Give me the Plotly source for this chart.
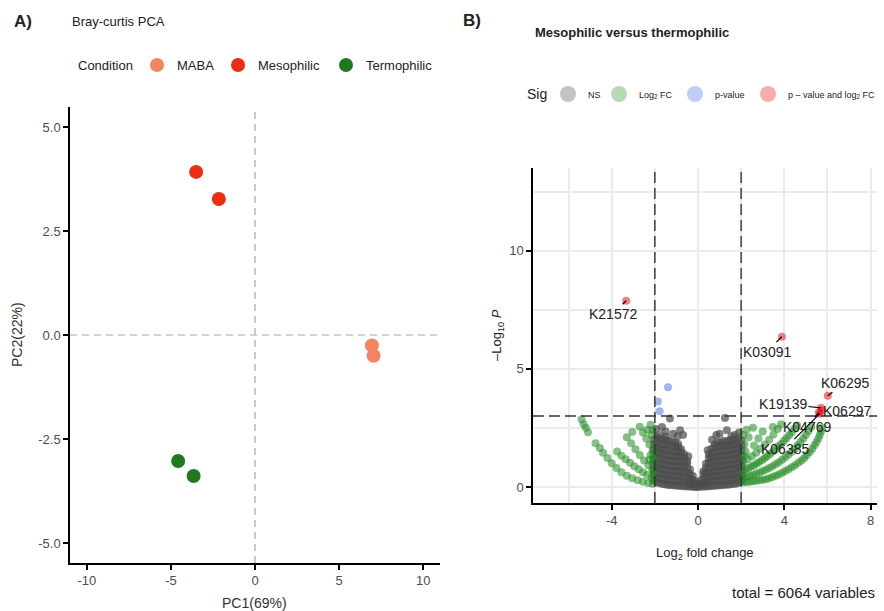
import plotly.graph_objects as go

W, H = 884, 611
FONT = "Liberation Sans, Arial, Helvetica, sans-serif"

# ---------------- Panel A: Bray-Curtis PCA scores ----------------
pca_condition = ["MABA", "MABA", "Mesophilic", "Mesophilic", "Termophilic", "Termophilic"]
pca_pc1 = [6.95, 7.05, -3.5, -2.15, -4.57, -3.65]
pca_pc2 = [-0.25, -0.5, 3.92, 3.27, -3.03, -3.39]
condition_order = ["MABA", "Mesophilic", "Termophilic"]
condition_colors = {"MABA": "#F4845F", "Mesophilic": "#EE2C10", "Termophilic": "#1F7A1F"}
pca_x_ticks = [-10, -5, 0, 5, 10]
pca_y_ticks = [-5.0, -2.5, 0.0, 2.5, 5.0]
pca_x_title = "PC1(69%)"
pca_y_title = "PC2(22%)"

# ---------------- Panel B: volcano (log2 fold change vs -log10 p) ----------------
# not significant
ns_points = [
    (-2.05, 0.28), (-2.05, 0.5), (-2.05, 0.72), (-2.05, 0.93), (-2.05, 1.15), (-2.05, 1.36), (-2.05, 1.58), (-2.05, 1.8), (-2.05, 2.0),
    (-1.92, 0.2), (-1.92, 0.41), (-1.92, 0.62), (-1.92, 0.84), (-1.92, 1.05), (-1.92, 1.26), (-1.92, 1.47), (-1.92, 1.69), (-1.92, 1.9), (-1.92, 2.1),
    (-1.78, 0.16), (-1.78, 0.36), (-1.78, 0.57), (-1.78, 0.78), (-1.78, 0.99), (-1.78, 1.2), (-1.78, 1.41), (-1.78, 1.62), (-1.78, 1.83), (-1.78, 2.04), (-1.78, 2.2),
    (-1.63, 0.12), (-1.63, 0.33), (-1.63, 0.54), (-1.63, 0.75), (-1.63, 0.96), (-1.63, 1.17), (-1.63, 1.38), (-1.63, 1.6), (-1.63, 1.81), (-1.63, 2.02),
    (-1.49, 0.1), (-1.49, 0.3), (-1.49, 0.51), (-1.49, 0.72), (-1.49, 0.93), (-1.49, 1.14), (-1.49, 1.35), (-1.49, 1.56), (-1.49, 1.77), (-1.49, 1.98), (-1.49, 2.12),
    (-1.35, 0.08), (-1.35, 0.28), (-1.35, 0.49), (-1.35, 0.7), (-1.35, 0.91), (-1.35, 1.12), (-1.35, 1.33), (-1.35, 1.54), (-1.35, 1.75), (-1.35, 1.95),
    (-1.2, 0.07), (-1.2, 0.27), (-1.2, 0.47), (-1.2, 0.68), (-1.2, 0.89), (-1.2, 1.1), (-1.2, 1.31), (-1.2, 1.52), (-1.2, 1.73), (-1.2, 1.92),
    (-1.06, 0.06), (-1.06, 0.26), (-1.06, 0.46), (-1.06, 0.67), (-1.06, 0.88), (-1.06, 1.09), (-1.06, 1.3), (-1.06, 1.5), (-1.06, 1.7), (-1.06, 1.88),
    (-0.92, 0.05), (-0.92, 0.25), (-0.92, 0.45), (-0.92, 0.66), (-0.92, 0.87), (-0.92, 1.08), (-0.92, 1.29), (-0.92, 1.49), (-0.92, 1.7), (-0.92, 1.82),
    (-0.78, 0.04), (-0.78, 0.24), (-0.78, 0.44), (-0.78, 0.65), (-0.78, 0.86), (-0.78, 1.07), (-0.78, 1.27), (-0.78, 1.47), (-0.78, 1.6),
    (-0.64, 0.03), (-0.64, 0.22), (-0.64, 0.42), (-0.64, 0.63), (-0.64, 0.84), (-0.64, 1.05), (-0.64, 1.25), (-0.64, 1.38),
    (-0.5, 0.02), (-0.5, 0.2), (-0.5, 0.4), (-0.5, 0.6), (-0.5, 0.8), (-0.5, 1.0), (-0.5, 1.1),
    (-0.37, 0.02), (-0.37, 0.18), (-0.37, 0.36), (-0.37, 0.55), (-0.37, 0.74),
    (-0.24, 0.01), (-0.24, 0.15), (-0.24, 0.3), (-0.24, 0.46),
    (-0.12, 0.0), (-0.12, 0.12), (-0.12, 0.24),
    (0.0, 0.0), (0.0, 0.06),
    (0.12, 0.01), (0.12, 0.14), (0.12, 0.27),
    (0.25, 0.02), (0.25, 0.18), (0.25, 0.36), (0.25, 0.55), (0.25, 0.66),
    (0.37, 0.02), (0.37, 0.2), (0.37, 0.4), (0.37, 0.6), (0.37, 0.8), (0.37, 0.98),
    (0.5, 0.03), (0.5, 0.22), (0.5, 0.42), (0.5, 0.62), (0.5, 0.82), (0.5, 1.02), (0.5, 1.22), (0.5, 1.38),
    (0.63, 0.04), (0.63, 0.24), (0.63, 0.44), (0.63, 0.64), (0.63, 0.84), (0.63, 1.04), (0.63, 1.24), (0.63, 1.44), (0.63, 1.62),
    (0.77, 0.05), (0.77, 0.25), (0.77, 0.45), (0.77, 0.65), (0.77, 0.86), (0.77, 1.06), (0.77, 1.27), (0.77, 1.47), (0.77, 1.68), (0.77, 1.8),
    (0.91, 0.06), (0.91, 0.26), (0.91, 0.46), (0.91, 0.67), (0.91, 0.88), (0.91, 1.09), (0.91, 1.3), (0.91, 1.5), (0.91, 1.71), (0.91, 1.9),
    (1.05, 0.07), (1.05, 0.27), (1.05, 0.48), (1.05, 0.69), (1.05, 0.9), (1.05, 1.11), (1.05, 1.32), (1.05, 1.53), (1.05, 1.74), (1.05, 1.88),
    (1.19, 0.08), (1.19, 0.28), (1.19, 0.49), (1.19, 0.7), (1.19, 0.91), (1.19, 1.12), (1.19, 1.33), (1.19, 1.54), (1.19, 1.75), (1.19, 1.95),
    (1.33, 0.09), (1.33, 0.3), (1.33, 0.51), (1.33, 0.72), (1.33, 0.93), (1.33, 1.14), (1.33, 1.35), (1.33, 1.56), (1.33, 1.77), (1.33, 1.92),
    (1.47, 0.1), (1.47, 0.31), (1.47, 0.52), (1.47, 0.73), (1.47, 0.94), (1.47, 1.15), (1.47, 1.36), (1.47, 1.57), (1.47, 1.78), (1.47, 1.98),
    (1.61, 0.12), (1.61, 0.33), (1.61, 0.54), (1.61, 0.75), (1.61, 0.96), (1.61, 1.17), (1.61, 1.38), (1.61, 1.59), (1.61, 1.8), (1.61, 2.0),
    (1.75, 0.14), (1.75, 0.35), (1.75, 0.56), (1.75, 0.77), (1.75, 0.98), (1.75, 1.19), (1.75, 1.4), (1.75, 1.61), (1.75, 1.82), (1.75, 2.02),
    (1.89, 0.18), (1.89, 0.39), (1.89, 0.6), (1.89, 0.81), (1.89, 1.02), (1.89, 1.23), (1.89, 1.44), (1.89, 1.65), (1.89, 1.86), (1.89, 2.05),
    (2.02, 0.24), (2.02, 0.46), (2.02, 0.68), (2.02, 0.9), (2.02, 1.12), (2.02, 1.34), (2.02, 1.56), (2.02, 1.78), (2.02, 1.98),
    (-1.67, 2.54), (-1.3, 2.9), (-0.83, 2.4), (-0.69, 2.2), (-1.95, 2.45), (-1.5, 2.35), (-0.95, 2.15), (-1.15, 2.25),
    (0.65, 2.0), (0.85, 2.2), (1.0, 2.25), (1.25, 2.92), (1.34, 2.4), (1.7, 2.2), (1.9, 2.3), (1.55, 2.15), (-0.45, 1.3), (0.45, 1.55),
]
# |log2 FC| > 2 only
fc_points = [
    (-5.4, 2.85), (-5.3, 2.65), (-5.2, 2.5), (-5.1, 2.32), (-4.75, 1.85), (-4.55, 1.65), (-4.4, 1.45), (-4.2, 1.22),
    (-4.0, 1.0), (-3.78, 0.8), (-3.55, 0.62), (-3.3, 0.47), (-3.05, 0.37), (-2.8, 0.28), (-2.55, 0.22), (-2.3, 0.17), (-2.1, 0.14),
    (-3.75, 1.5), (-3.55, 1.32), (-3.35, 1.17), (-3.15, 1.02), (-2.95, 0.88), (-2.75, 0.75), (-2.55, 0.62), (-2.35, 0.5), (-2.15, 0.4),
    (-3.3, 2.1), (-3.1, 1.85), (-2.9, 1.6), (-2.7, 1.35), (-2.5, 1.12), (-2.3, 0.92), (-2.12, 0.75),
    (-2.7, 2.55), (-2.55, 2.3), (-2.4, 2.05), (-2.25, 1.8), (-2.1, 1.55),
    (-3.05, 2.33), (-2.35, 2.42), (-2.2, 2.63), (-2.1, 2.4), (-2.15, 2.2), (-2.05, 1.2), (-2.1, 1.0), (-2.2, 1.35), (-2.05, 0.6), (-2.25, 1.15),
    (2.1, 0.2), (2.25, 0.21), (2.4, 0.22), (2.55, 0.24), (2.7, 0.26), (2.85, 0.28), (3.0, 0.3), (3.15, 0.33), (3.3, 0.37), (3.45, 0.42),
    (3.6, 0.47), (3.75, 0.53), (3.9, 0.6), (4.05, 0.67), (4.2, 0.75), (4.35, 0.83), (4.5, 0.92), (4.65, 1.02), (4.8, 1.12), (4.93, 1.23),
    (5.05, 1.35), (5.18, 1.48), (5.3, 1.62), (5.4, 1.76), (5.5, 1.9), (5.58, 2.05), (5.65, 2.2), (5.7, 2.35), (5.75, 2.5),
    (2.1, 0.4), (2.25, 0.43), (2.4, 0.47), (2.55, 0.51), (2.7, 0.56), (2.85, 0.61), (3.0, 0.67), (3.15, 0.73), (3.3, 0.8), (3.45, 0.88),
    (3.6, 0.96), (3.75, 1.05), (3.9, 1.15), (4.05, 1.26), (4.2, 1.37), (4.35, 1.49), (4.5, 1.62), (4.62, 1.76), (4.75, 1.9), (4.88, 2.05),
    (5.0, 2.2), (5.12, 2.37), (5.25, 2.55),
    (2.1, 0.7), (2.22, 0.75), (2.35, 0.8), (2.48, 0.86), (2.6, 0.92), (2.72, 0.99), (2.85, 1.06), (2.98, 1.14), (3.1, 1.22), (3.22, 1.31),
    (3.35, 1.4), (3.48, 1.5), (3.6, 1.6), (3.72, 1.71), (3.85, 1.82), (3.98, 1.94), (4.1, 2.06), (4.22, 2.19), (4.35, 2.32), (4.48, 2.46), (4.6, 2.6),
    (2.1, 1.05), (2.3, 1.17), (2.5, 1.3), (2.7, 1.45), (2.9, 1.62), (3.1, 1.8), (3.3, 2.0), (3.5, 2.22), (3.7, 2.45), (3.85, 2.65),
    (2.25, 2.42), (2.55, 2.5), (2.35, 2.1), (2.15, 1.8), (2.2, 1.5), (2.1, 2.2), (3.47, 2.54), (2.8, 2.05), (2.6, 1.75), (3.0, 2.35), (2.15, 1.3),
]
# p-value only
p_points = [(-1.39, 4.22), (-1.86, 3.62), (-1.78, 3.2)]
# p-value and |log2 FC| (labelled)
sig_genes = ["K21572", "K03091", "K06295", "K19139", "K06297", "K04769", "K06385"]
sig_lfc = [-3.33, 3.89, 6.02, 5.7, 5.75, 5.6, 5.65]
sig_logp = [7.88, 6.36, 3.86, 3.35, 3.25, 3.15, 3.1]

fc_cutoff = 2.0
logp_cutoff = 3.0
total_variables = 6064

volcano_x_ticks = [-4, 0, 4, 8]
volcano_x_minor = [-6, -2, 2, 6]
volcano_y_ticks = [0, 5, 10]
volcano_y_minor = [2.5, 7.5, 12.5]

sig_categories = ["NS", "Log<sub>2</sub> FC", "p-value", "p \u2013 value and log<sub>2</sub> FC"]
sig_colors = ["#4D4D4D", "#228B22", "#4169E1", "#EE0000"]
sig_opacity = [0.7, 0.55, 0.5, 0.5]

# text offsets (px) of each gene label from its point
label_offsets = {
    "K21572": (-13, 13), "K03091": (-15, 15), "K06295": (17, -13), "K19139": (-38, -4),
    "K06297": (25, 1), "K04769": (-12, 14), "K06385": (-35, 35),
}
# left edge (px) of each legend key
cond_legend_left = [137, 218, 326]
sig_legend_left = [548, 599, 675, 748]

fig = go.Figure()

# ---- PCA points ----
cond_legend_names = ["legend", "legend2", "legend3"]
for cond, lg in zip(condition_order, cond_legend_names):
    idx = [i for i, c in enumerate(pca_condition) if c == cond]
    fig.add_trace(go.Scatter(
        x=[pca_pc1[i] for i in idx], y=[pca_pc2[i] for i in idx],
        mode="markers", name=cond, legend=lg,
        marker=dict(size=14, color=condition_colors[cond]),
        xaxis="x", yaxis="y", hoverinfo="skip",
    ))

# ---- volcano points ----
ns_x, ns_y = zip(*ns_points)
fc_x, fc_y = zip(*fc_points)
p_x, p_y = zip(*p_points)
groups = [(ns_x, ns_y), (fc_x, fc_y), (p_x, p_y), (sig_lfc, sig_logp)]
sig_legend_names = ["legend4", "legend5", "legend6", "legend7"]
for (gx, gy), name, col, op, lg in zip(groups, sig_categories, sig_colors, sig_opacity, sig_legend_names):
    fig.add_trace(go.Scatter(
        x=list(gx), y=list(gy), mode="markers", showlegend=False,
        marker=dict(size=8, color=col, opacity=op, line=dict(width=0)),
        xaxis="x2", yaxis="y2", hoverinfo="skip",
    ))
    # legend key
    fig.add_trace(go.Scatter(
        x=[None], y=[None], mode="markers", name=name, legend=lg,
        marker=dict(size=16, color=col, opacity=0.33),
        xaxis="x2", yaxis="y2",
    ))

axis_common = dict(
    showline=True, linecolor="black", linewidth=1.5, mirror=False,
    ticks="outside", ticklen=5, tickwidth=1.5, tickcolor="black",
    tickfont=dict(size=13, color="#4D4D4D"), zeroline=False, tickmode="array",
    automargin=False,
)

fig.update_layout(
    width=W, height=H, margin=dict(l=0, r=0, t=0, b=0, autoexpand=False),
    paper_bgcolor="white", plot_bgcolor="white",
    font=dict(family=FONT, color="#222222"),
    xaxis=dict(domain=[70 / W, 440 / W], range=[-11, 11], anchor="y", showgrid=False,
               tickvals=pca_x_ticks, ticktext=[str(v) for v in pca_x_ticks], **axis_common),
    yaxis=dict(domain=[1 - 563 / H, 1 - 107 / H], range=[-5.48, 5.48], anchor="x", showgrid=False,
               tickvals=pca_y_ticks, ticktext=[f"{v:.1f}" for v in pca_y_ticks], **axis_common),
    xaxis2=dict(domain=[533 / W, 877 / W], range=[-7.65, 8.3], anchor="y2",
                showgrid=True, gridcolor="#EBEBEB", gridwidth=2,
                minor=dict(tickmode="array", tickvals=volcano_x_minor, showgrid=True,
                           gridcolor="#EBEBEB", gridwidth=2, ticklen=0),
                tickvals=volcano_x_ticks, ticktext=[str(v) for v in volcano_x_ticks], **axis_common),
    yaxis2=dict(domain=[1 - 503 / H, 1 - 168 / H], range=[-0.68, 13.5], anchor="x2",
                showgrid=True, gridcolor="#EBEBEB", gridwidth=2,
                minor=dict(tickmode="array", tickvals=volcano_y_minor, showgrid=True,
                           gridcolor="#EBEBEB", gridwidth=2, ticklen=0),
                tickvals=volcano_y_ticks, ticktext=[str(v) for v in volcano_y_ticks], **axis_common),
)

legend_layout = {}
for lg, left in zip(cond_legend_names, cond_legend_left):
    legend_layout[lg] = dict(orientation="h", x=left / W, y=1 - 65 / H, xanchor="left", yanchor="middle",
                             font=dict(size=13, color="#222222"), bgcolor="rgba(0,0,0,0)")
for lg, left in zip(sig_legend_names, sig_legend_left):
    legend_layout[lg] = dict(orientation="h", x=left / W, y=1 - 94 / H, xanchor="left", yanchor="middle",
                             font=dict(size=9, color="#222222"), bgcolor="rgba(0,0,0,0)")
fig.update_layout(**legend_layout)

# reference lines
grey_dash = dict(color="#A8A8A8", width=1.2, dash="7px,5px")
black_dash = dict(color="#333333", width=1.4, dash="11px,5px")
fig.add_shape(type="line", xref="x", yref="y domain", x0=0, x1=0, y0=0, y1=1, line=grey_dash)
fig.add_shape(type="line", xref="x domain", yref="y", x0=0, x1=1, y0=0, y1=0, line=grey_dash)
for xv in (-fc_cutoff, fc_cutoff):
    fig.add_shape(type="line", xref="x2", yref="y2 domain", x0=xv, x1=xv, y0=0, y1=1, line=black_dash)
fig.add_shape(type="line", xref="x2 domain", yref="y2", x0=0, x1=1, y0=logp_cutoff, y1=logp_cutoff, line=black_dash)

# gene labels with connectors
for g, lx, ly in zip(sig_genes, sig_lfc, sig_logp):
    ax, ay = label_offsets[g]
    fig.add_annotation(x=lx, y=ly, xref="x2", yref="y2", text=g, showarrow=True,
                       arrowhead=0, arrowwidth=1.2, arrowcolor="black", standoff=0,
                       ax=ax, ay=ay, font=dict(size=14, color="#222222"))

def paper_text(text, px, py, size, bold=False, xanchor="left", angle=0, color="#222222"):
    if bold:
        text = f"<b>{text}</b>"
    fig.add_annotation(text=text, x=px / W, y=1 - py / H, xref="paper", yref="paper",
                       showarrow=False, xanchor=xanchor, yanchor="middle", textangle=angle,
                       font=dict(size=size, color=color))

paper_text("A)", 12, 22, 17, bold=True)
paper_text("Bray-curtis PCA", 70, 22, 13)
paper_text("Condition", 76, 65, 13)
paper_text("B)", 461, 20, 17, bold=True)
paper_text("Mesophilic versus thermophilic", 533, 33, 13, bold=True)
paper_text("Sig", 525, 94, 14)
paper_text(pca_x_title, 255, 603, 14, xanchor="center", color="#333333")
paper_text(pca_y_title, 17, 335, 14, xanchor="center", angle=-90, color="#333333")
paper_text("Log<sub>2</sub> fold change", 705, 553, 13, xanchor="center")
paper_text("\u2013Log<sub>10</sub> <i>P</i>", 497, 335, 13, xanchor="center", angle=-90)
paper_text(f"total = {total_variables} variables", 877, 592, 15, xanchor="right")

fig.write_html("out.html")
